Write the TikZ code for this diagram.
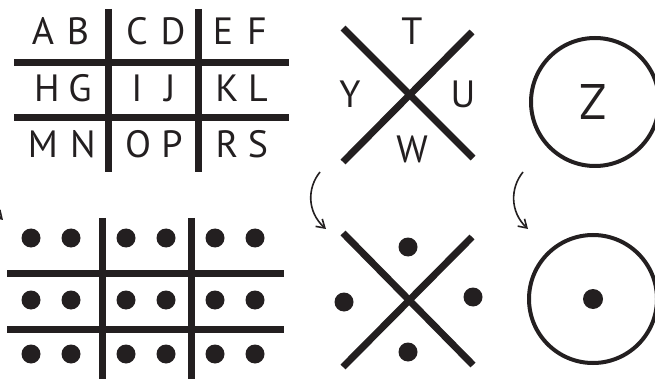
\documentclass[tikz,border=0pt]{standalone}
\usepackage{fontspec}
\setmainfont{PT Sans}
\usetikzlibrary{arrows.meta}
\definecolor{inchiostro}{HTML}{231F20}

\tikzset{
  barra/.style={inchiostro,line width=7pt},
  lettera/.style={anchor=base,inner sep=0pt,text=inchiostro,font=\fontsize{38}{40}\selectfont},
  punto/.style={circle,fill=inchiostro,inner sep=0pt,minimum size=19pt},
  cerchio/.style={circle,draw=inchiostro,line width=4pt,minimum size=128pt,inner sep=0pt},
  freccia/.style={inchiostro,line width=1.6pt,-{Straight Barb[length=8pt,width=10pt]}}
}

\begin{document}
\begin{tikzpicture}[x=1pt,y=-1pt]
    \useasboundingbox (0,0) rectangle (655,379);
    %griglia con le lettere
    \draw[barra](14,63)--(289,63);
    \draw[barra](14,118)--(289,118);
    \draw[barra](108,9)--(108,172);
    \draw[barra](198,9)--(198,172);
    \foreach \l/\x/\y in {A/43/45,B/78/45,C/137/45,D/173/45,E/223/45,F/257/45,
                          H/47/102,G/80/102,I/137/102,J/170/102,K/227/102,L/258/102,
                          M/43/158,N/83/158,O/138/158,P/172/158,R/227/158,S/258/158}
        \node[lettera](\l) at (\x,\y){\l};
    %griglia con i punti
    \draw[barra](7,273)--(284,273);
    \draw[barra](7,329)--(284,329);
    \draw[barra](102,218)--(102,385);
    \draw[barra](191,218)--(191,385);
    \foreach \x in {31,71,126,166,215,255}
        \foreach \y in {238,300,354}
            \node[punto](p\x-\y) at (\x,\y){};
    %croce con le lettere
    \coordinate (xa) at (408,95);
    \draw[barra](xa)++(-65,-67)--++(130,130);
    \draw[barra](xa)++(64,-63)--++(-129,130);
    \node[lettera](T) at (412,45){T};
    \node[lettera](Y) at (350,108){Y};
    \node[lettera](U) at (463,108){U};
    \node[lettera](W) at (412,163){W};
    %croce con i punti
    \coordinate (xb) at (408,300);
    \draw[barra](xb)++(-65,-67)--++(130,132);
    \draw[barra](xb)++(64,-63)--++(-129,130);
    \node[punto](pt) at (408,247){};
    \node[punto](pl) at (344,302){};
    \node[punto](pr) at (473,297){};
    \node[punto](pb) at (408,352){};
    %cerchi
    \node[cerchio](ca) at (595,102){};
    \node[lettera,font=\fontsize{50}{52}\selectfont](Z) at (593,120){Z};
    \node[cerchio](cb) at (593,299){};
    \node[punto,minimum size=20pt](pc) at (cb){};
    %frecce
    \coordinate (f0a) at (-3,162);
    \coordinate (f0b) at (3,220);
    \coordinate (f1a) at (320,172);
    \coordinate (f1b) at (326,229);
    \coordinate (f2a) at (523,172);
    \coordinate (f2b) at (528,229);
    \draw[freccia](f0a) .. controls (-15,178) and (-15,202) .. (f0b);
    \draw[freccia](f1a) .. controls (307,188) and (307,212) .. (f1b);
    \draw[freccia](f2a) .. controls (510,188) and (510,212) .. (f2b);
\end{tikzpicture}
\end{document}
